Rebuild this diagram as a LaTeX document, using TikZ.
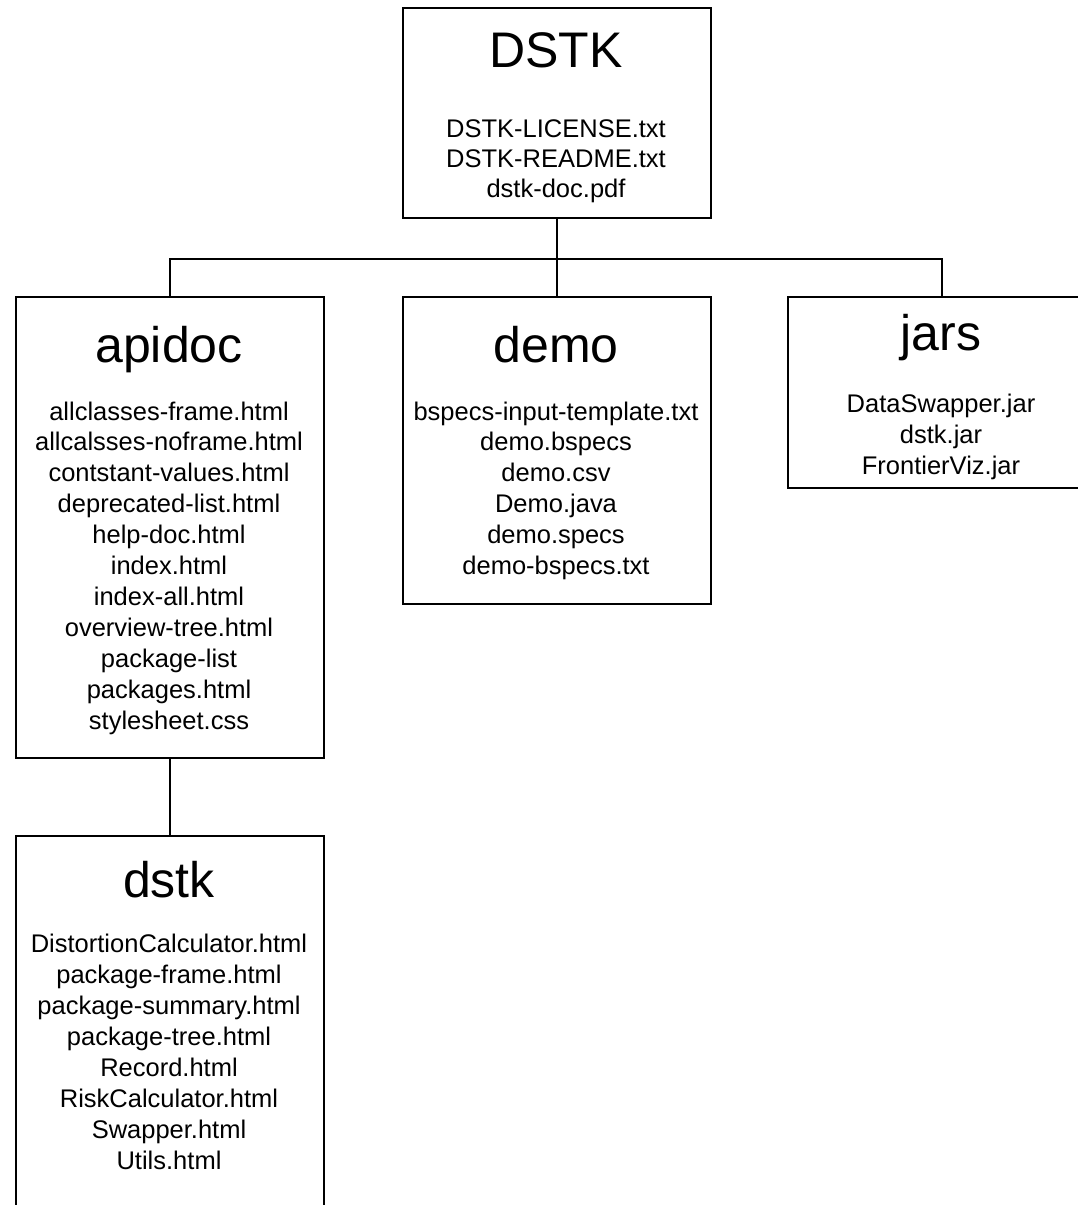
\documentclass[tikz,border=0pt]{standalone}
\usepackage{fontspec}
\setmainfont{Liberation Sans}
\usetikzlibrary{calc}
\begin{document}
\begin{tikzpicture}[x=1pt,y=-1pt,
  box/.style={draw,line width=2pt,anchor=north west,inner sep=0pt},
  ttl/.style={anchor=base,inner sep=0pt,font=\fontsize{50}{60}\selectfont},
  itm/.style={anchor=base,inner sep=0pt,font=\fontsize{25.5}{31}\selectfont},
  conn/.style={line width=2pt}]
\useasboundingbox (0,0) rectangle (1078,1205);
\clip (0,0) rectangle (1078,1205);
\fill[white] (0,0) rectangle (1078,1205);
% boxes
\node[box,minimum width=308pt,minimum height=210pt] (root) at (402,7) {};
\node[box,minimum width=308pt,minimum height=461pt] (apidoc) at (15,296) {};
\node[box,minimum width=308pt,minimum height=307pt] (demo) at (402,296) {};
\node[box,minimum width=308pt,minimum height=191pt] (jars) at (787,296) {};
\node[box,minimum width=308pt,minimum height=400pt] (dstk) at (15,835) {};
% connectors
\coordinate (bus) at ($(root.south)+(0,40)$);
\draw[conn] (root.south) -- (bus);
\draw[conn] (bus) -| (apidoc.north);
\draw[conn] (bus) -- (demo.north);
\draw[conn] (bus) -| (jars.north);
\draw[conn] (apidoc.south) -- (dstk.north);
% titles
\node[ttl] (t-root) at (556,67) {DSTK};
\node[ttl] (t-apidoc) at (169,362) {apidoc};
\node[ttl] (t-demo) at (556,362) {demo};
\node[ttl] (t-jars) at (941,350) {jars};
\node[ttl] (t-dstk) at (169,897) {dstk};
% items
\foreach \t [count=\i from 0] in {DSTK-LICENSE.txt,DSTK-README.txt,dstk-doc.pdf}
  \node[itm] (r\i) at (556,137+30*\i) {\t};
\foreach \t [count=\i from 0] in {allclasses-frame.html,allcalsses-noframe.html,contstant-values.html,deprecated-list.html,help-doc.html,index.html,index-all.html,overview-tree.html,package-list,packages.html,stylesheet.css}
  \node[itm] (a\i) at (169,420+30.9*\i) {\t};
\foreach \t [count=\i from 0] in {bspecs-input-template.txt,demo.bspecs,demo.csv,Demo.java,demo.specs,demo-bspecs.txt}
  \node[itm] (d\i) at (556,420+30.9*\i) {\t};
\foreach \t [count=\i from 0] in {DataSwapper.jar,dstk.jar,FrontierViz.jar}
  \node[itm] (j\i) at (941,412+31*\i) {\t};
\foreach \t [count=\i from 0] in {DistortionCalculator.html,package-frame.html,package-summary.html,package-tree.html,Record.html,RiskCalculator.html,Swapper.html,Utils.html}
  \node[itm] (k\i) at (169,952+31*\i) {\t};
\end{tikzpicture}
\end{document}
